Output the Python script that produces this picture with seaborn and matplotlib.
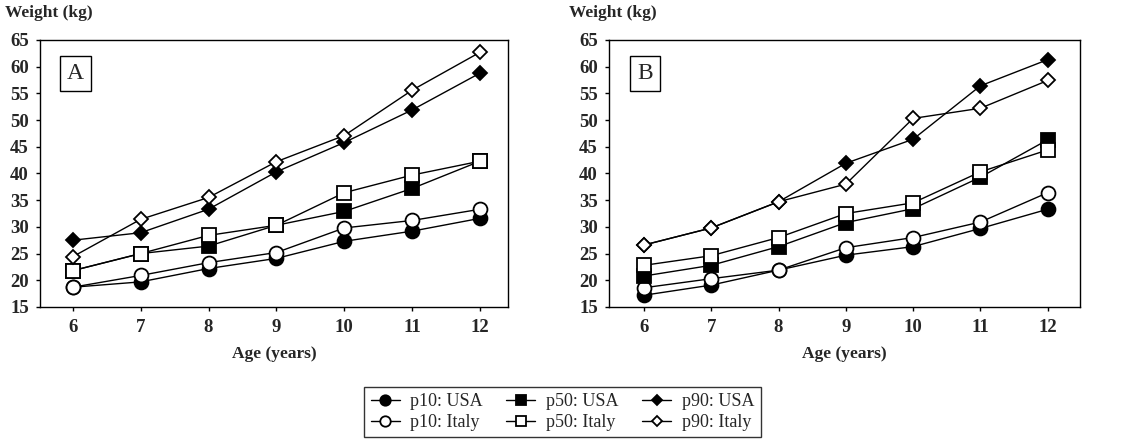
import matplotlib
matplotlib.use("Agg")
import matplotlib.pyplot as plt
import seaborn as sns
import pandas as pd

sns.set_theme(style="white")
plt.rcParams['font.family'] = ['Liberation Serif', 'DejaVu Serif']

ages = [6, 7, 8, 9, 10, 11, 12]

# Panel A
a_p10_usa = [18.7, 19.7, 22.2, 24.1, 27.3, 29.2, 31.6]
a_p10_ita = [18.7, 20.9, 23.3, 25.2, 29.8, 31.2, 33.3]
a_p50_usa = [21.8, 25.0, 26.4, 30.3, 32.9, 37.2, 42.3]
a_p50_ita = [21.8, 25.0, 28.4, 30.3, 36.4, 39.7, 42.3]
a_p90_usa = [27.5, 28.9, 33.3, 40.3, 45.8, 51.9, 58.8]
a_p90_ita = [24.4, 31.4, 35.5, 42.2, 47.1, 55.6, 62.7]

# Panel B
b_p10_usa = [17.2, 19.1, 21.9, 24.7, 26.3, 29.7, 33.3]
b_p10_ita = [18.6, 20.3, 21.9, 26.1, 28.0, 30.9, 36.4]
b_p50_usa = [20.8, 22.8, 26.3, 30.8, 33.4, 39.3, 46.3]
b_p50_ita = [22.8, 24.6, 28.0, 32.5, 34.5, 40.3, 44.4]
b_p90_usa = [26.6, 29.8, 34.7, 41.9, 46.4, 56.4, 61.3]
b_p90_ita = [26.6, 29.8, 34.7, 38.0, 50.3, 52.2, 57.4]

labels = ["p10: USA", "p10: Italy", "p50: USA", "p50: Italy", "p90: USA", "p90: Italy"]
markers = ["o", "o", "s", "s", "D", "D"]
msizes = [10, 10, 9.5, 9.5, 7, 7]
faces = ["black", "white", "black", "white", "black", "white"]
panel_letters = ["A", "B"]
yticks = [15, 20, 25, 30, 35, 40, 45, 50, 55, 60, 65]

panels = [
    [a_p10_usa, a_p10_ita, a_p50_usa, a_p50_ita, a_p90_usa, a_p90_ita],
    [b_p10_usa, b_p10_ita, b_p50_usa, b_p50_ita, b_p90_usa, b_p90_ita],
]

fig = plt.figure(figsize=(11.25, 4.43), dpi=100)
axA = fig.add_axes([0.0356, 0.307, 0.416, 0.603])
axB = fig.add_axes([0.5413, 0.307, 0.4187, 0.603])
axes = [axA, axB]
xlims = [(5.52, 12.41), (5.48, 12.48)]
ylabel_x = [-0.075, -0.085]

for ax, series, letter, xl, ylx in zip(axes, panels, panel_letters, xlims, ylabel_x):
    for vals, lab, m, ms, fc in zip(series, labels, markers, msizes, faces):
        df = pd.DataFrame({"age": ages, "w": vals})
        sns.lineplot(data=df, x="age", y="w", ax=ax, color="black", lw=1.0,
                     marker=m, markersize=ms, markerfacecolor=fc,
                     markeredgecolor="black", markeredgewidth=1.3, label=lab,
                     legend=False)
    ax.set_xlim(*xl)
    ax.set_ylim(15, 65)
    ax.set_xticks(ages)
    ax.set_xticklabels([str(a) for a in ages], fontsize=13.5, fontweight="bold")
    ax.set_yticks(yticks)
    ax.set_yticklabels([str(t) for t in yticks], fontsize=13.5, fontweight="bold")
    ax.tick_params(axis="both", direction="out", length=3, width=1, color="black",
                   bottom=True, left=True)
    ax.tick_params(axis="x", pad=6)
    ax.tick_params(axis="y", pad=5)
    for sp in ax.spines.values():
        sp.set_color("black")
        sp.set_linewidth(1.0)
    ax.set_xlabel("Age (years)", fontsize=12.5, fontweight="bold")
    ax.xaxis.set_label_coords(0.5, -0.145)
    ax.set_ylabel("")
    ax.text(ylx, 1.07, "Weight (kg)", transform=ax.transAxes, fontsize=12.5,
            fontweight="bold", ha="left", va="bottom")
    ax.text(0.076, 0.873, letter, transform=ax.transAxes, fontsize=17,
            ha="center", va="center",
            bbox=dict(boxstyle="square,pad=0.3", fc="white", ec="black", lw=1))

handles, labs = axA.get_legend_handles_labels()
fig.legend(handles, labs, loc="upper center", bbox_to_anchor=(0.5, 0.147),
           ncol=3, frameon=True, fancybox=False, edgecolor="black",
           fontsize=13, handlelength=1.6, handletextpad=0.6,
           columnspacing=1.3, borderpad=0.35, labelspacing=0.2, markerscale=0.75)

fig.savefig("out.png", dpi=100)
